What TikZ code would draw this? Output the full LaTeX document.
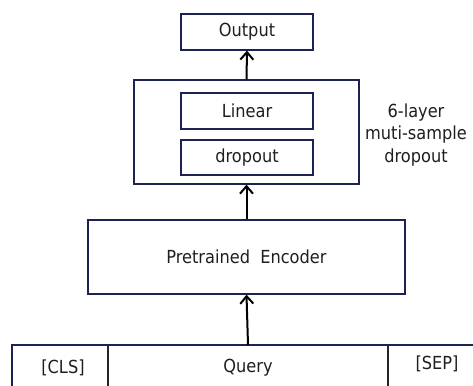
\documentclass[tikz,border=0pt]{standalone}
\usepackage{fontspec}
\setmainfont{DejaVu Sans Condensed}
\usepackage{tikz}
\usetikzlibrary{arrows.meta}
\definecolor{boxnavy}{RGB}{30,34,82}
\definecolor{txtgray}{RGB}{30,30,30}
\tikzset{
  blk/.style={draw=boxnavy, line width=1.3pt, rectangle, text=txtgray, inner sep=0pt},
  rowline/.style={draw=boxnavy, line width=1.3pt},
  flow/.style={-{Straight Barb[length=7.5pt,width=13pt]}, line width=2pt, black},
}

\begin{document}
\begin{tikzpicture}[x=1pt, y=-1pt, font=\fontsize{18}{22.5}\selectfont]
\useasboundingbox (0,0) rectangle (473,385);
% blocks
\node[blk, minimum width=132pt, minimum height=36pt] at (247,32) (output) {Output};
\node[blk, minimum width=225pt, minimum height=104pt] at (246.5,132) (msd) {};
\node[blk, minimum width=132pt, minimum height=36pt] at (247,111) (linear) {Linear};
\node[blk, minimum width=132pt, minimum height=35pt] at (247,157.5) (drop) {dropout};
\node[blk, minimum width=317pt, minimum height=74pt] at (246.5,257) (encoder) {Pretrained\ \ Encoder};
\node[align=center, text=txtgray] at (416,135) (msdlabel) {6-layer\\muti-sample\\dropout};
% input tokens (row runs off the page)
\draw[rowline] (12,400) -- (12,345) -- (490,345);
\draw[rowline, draw=black!85] (108,345) -- (108,400);
\draw[rowline, draw=black!85] (388,345) -- (388,400);
\coordinate (query) at (248,345);
\node[text=txtgray] at (63,368) (cls) {[CLS]};
\node[text=txtgray] at (248,368) (querytxt) {Query};
\node[text=txtgray] at (437,364) (sep) {[SEP]};
% arrows
\draw[flow] (query) -- (encoder.south);
\draw[flow] (encoder.north) -- (msd.south);
\draw[flow] (msd.north) -- (output.south);
\end{tikzpicture}
\end{document}
